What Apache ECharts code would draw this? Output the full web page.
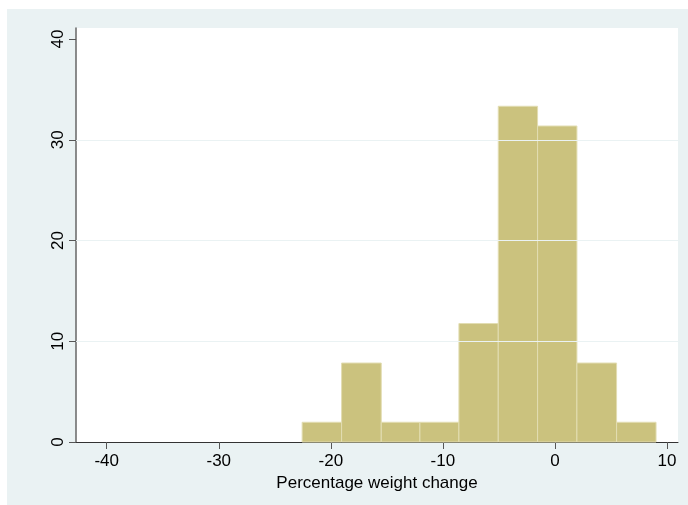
<!DOCTYPE html>
<html>
<head>
<meta charset="utf-8">
<script src="https://cdn.jsdelivr.net/npm/echarts@6/dist/echarts.min.js"></script>
<style>
  html, body { margin: 0; padding: 0; background: #ffffff; }
  #chart { width: 688px; height: 505px; }
</style>
</head>
<body>
<div id="chart"></div>
<script>
// Histogram bin edges (percentage weight change) and bar heights (percent)
const binEdges = [-22.56, -19.04, -15.50, -12.05, -8.57, -5.06, -1.55, 1.96, 5.50, 9.02];
const percents = [1.96, 7.84, 1.96, 1.96, 11.76, 33.33, 31.37, 7.84, 1.96];
const xTicks = [-40, -30, -20, -10, 0, 10];
const yTicks = [0, 10, 20, 30, 40];
const yGridLines = [10, 20, 30];
const xTitle = 'Percentage weight change';

const barData = percents.map((p, i) => [binEdges[i], binEdges[i + 1], p]);

const chart = echarts.init(document.getElementById('chart'), null, { renderer: 'canvas' });
const fontFamily = 'Arial, "Liberation Sans", Helvetica, sans-serif';
const axisGray = '#555555';

chart.setOption({
  animation: false,
  backgroundColor: '#ffffff',
  graphic: [{
    type: 'rect', z: -100, silent: true,
    shape: { x: 7, y: 9, width: 681, height: 496 },
    style: { fill: '#EAF2F3' }
  }],
  grid: {
    left: 76, right: 10, top: 28, bottom: 63,
    show: true, backgroundColor: '#ffffff', borderWidth: 0
  },
  xAxis: {
    type: 'value',
    min: -42.74, max: 10.98,
    name: xTitle,
    nameLocation: 'middle',
    nameGap: 29,
    nameTextStyle: { fontFamily, fontSize: 17, color: '#000000' },
    axisLine: { show: true, onZero: false, lineStyle: { color: '#333333', width: 1 } },
    axisTick: { show: true, length: 7, customValues: xTicks, lineStyle: { color: axisGray, width: 1 } },
    axisLabel: { customValues: xTicks, fontFamily, fontSize: 17, color: '#000000', margin: 11 },
    splitLine: { show: false }
  },
  yAxis: {
    type: 'value',
    min: 0, max: 41.1,
    axisLine: { show: true, onZero: false, lineStyle: { color: '#666666', width: 1.5 } },
    axisTick: { show: true, length: 7, customValues: yTicks, lineStyle: { color: axisGray, width: 1 } },
    axisLabel: { customValues: yTicks, rotate: 90, fontFamily, fontSize: 17, color: '#000000', margin: 9 },
    splitLine: { show: false }
  },
  series: [
    {
      type: 'line',
      data: [],
      z: 1,
      silent: true,
      markLine: {
        silent: true,
        symbol: ['none', 'none'],
        label: { show: false },
        lineStyle: { color: '#EAF2F3', width: 1, type: 'solid' },
        emphasis: { disabled: true },
        data: yGridLines.map(v => ({ yAxis: v }))
      }
    },
    {
      type: 'custom',
      z: 2,
      data: barData,
      encode: { x: [0, 1], y: 2 },
      renderItem: function (params, api) {
        const x0 = api.value(0), x1 = api.value(1), v = api.value(2);
        const p0 = api.coord([x0, v]);
        const p1 = api.coord([x1, 0]);
        return {
          type: 'rect',
          shape: { x: p0[0], y: p0[1], width: p1[0] - p0[0], height: p1[1] - p0[1] },
          style: { fill: '#CBC27E', stroke: '#E2DDB2', lineWidth: 1 }
        };
      }
    }
  ]
});
</script>
</body>
</html>
